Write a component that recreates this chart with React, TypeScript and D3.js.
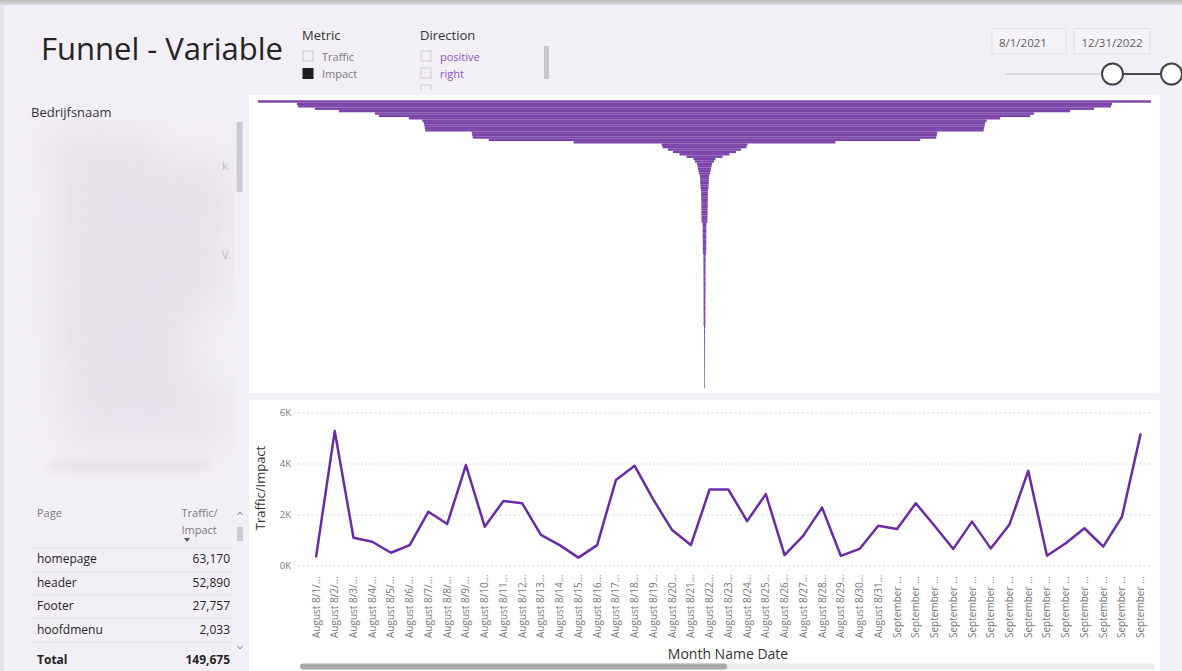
import React from "react";
import * as d3 from "d3";

const W = 1182;
const H = 671;
const FONT = "'Segoe UI', 'Open Sans', sans-serif";

// ---------- DATA ----------
const titleText = "Funnel - Variable";
const metricItems = ["Traffic", "Impact"];
const metricChecked = [false, true];
const directionItems = ["positive", "right", "ᵥᵥᵥᵥᵥ"];
const dateRange = ["8/1/2021", "12/31/2022"];

const tablePages = ["homepage", "header", "Footer", "hoofdmenu"];
const tableValues = [63170, 52890, 27757, 2033];
const tableTotal = 149675;

// funnel rows (sorted descending), value per category
const funnelValues = [
  8940, 8160, 8140, 7800, 7320, 6600, 6520, 5920, 5650, 5620, 5610, 5600, 5590,
  4660, 4650, 4640, 4320, 2620, 860, 840, 730, 630, 500, 360, 220, 190, 150, 140,
  130, 120, 110, 90, 88, 86, 84, 82, 80,
  68, 67, 66, 66, 65, 64, 64, 63, 62, 62, 61, 61, 60, 60,
  38, 38, 37, 37, 37, 36, 36, 36, 35, 35, 35, 34, 34,
  22, 22, 22, 21, 21, 21, 21, 21, 20, 20, 20, 20, 20, 20, 20, 19, 19, 19, 19, 19,
  19, 19, 18, 18, 18, 18, 18, 18, 18, 18,
  10, 10, 10, 9, 9, 9, 9, 9, 9, 8, 8, 8, 8, 8, 8, 8, 8, 7, 7, 7, 7, 7, 7, 7, 7, 7,
];

const dateLabels = [
  "August 8/1/…", "August 8/2/…", "August 8/3/…", "August 8/4/…", "August 8/5/…",
  "August 8/6/…", "August 8/7/…", "August 8/8/…", "August 8/9/…", "August 8/10…",
  "August 8/11…", "August 8/12…", "August 8/13…", "August 8/14…", "August 8/15…",
  "August 8/16…", "August 8/17…", "August 8/18…", "August 8/19…", "August 8/20…",
  "August 8/21…", "August 8/22…", "August 8/23…", "August 8/24…", "August 8/25…",
  "August 8/26…", "August 8/27…", "August 8/28…", "August 8/29…", "August 8/30…",
  "August 8/31…",
  "September …", "September …", "September …", "September …", "September …",
  "September …", "September …", "September …", "September …", "September …",
  "September …", "September …", "September …", "September …",
];

const lineValues = [
  340, 5290, 1110, 950, 520, 820, 2130, 1650, 3960, 1540, 2550, 2460, 1220, 820,
  330, 820, 3370, 3930, 2600, 1410, 820, 3000, 3000, 1760, 2820, 430, 1190, 2290,
  400, 670, 1580, 1450, 2460, 1580, 670, 1740, 690, 1630, 3730, 400, 890, 1480,
  760, 1930, 5200,
];

const yTicks = [0, 2000, 4000, 6000];
const yTickLabels = ["0K", "2K", "4K", "6K"];

export default function App() {
  // funnel scales
  const rowIdx = d3.range(funnelValues.length);
  const fy = d3.scaleBand<number>().domain(rowIdx).range([100.3, 388.3]).paddingInner(0);
  const fw = d3.scaleLinear().domain([0, d3.max(funnelValues) as number]).range([0, 446.5]);
  const fcx = 704.5;

  // line scales
  const x = d3.scalePoint<number>().domain(d3.range(lineValues.length)).range([316, 1140.7]);
  const y = d3.scaleLinear().domain([0, 6000]).range([566, 413]);
  const linePath = d3
    .line<number>()
    .x((_, i) => x(i) as number)
    .y((d) => y(d))(lineValues) as string;

  const fmt = d3.format(",");
  const rowBase = [563, 587, 610, 634];
  const rowLines = [548, 572, 595, 618, 642];

  return (
    <svg
      width={W}
      height={H}
      style={{ position: "absolute", left: 0, top: 0, display: "block" }}
      fontFamily={FONT}
    >
      <defs>
        <filter id="blur" x="-50%" y="-50%" width="200%" height="200%">
          <feGaussianBlur stdDeviation="20" />
        </filter>
        <filter id="blur2" x="-50%" y="-50%" width="200%" height="200%">
          <feGaussianBlur stdDeviation="4" />
        </filter>
        <linearGradient id="topbar" x1="0" y1="0" x2="0" y2="1">
          <stop offset="0" stopColor="#bdbdbd" />
          <stop offset="1" stopColor="#dcdcdc" />
        </linearGradient>
        <clipPath id="dirclip">
          <rect x={410} y={20} width={150} height={70} />
        </clipPath>
        <clipPath id="leftclip">
          <rect x={20} y={120} width={215} height={360} />
        </clipPath>
      </defs>

      {/* page background */}
      <rect x={0} y={0} width={W} height={H} fill="#f3eff6" />
      <rect x={0} y={0} width={W} height={5} fill="url(#topbar)" />
      <rect x={0} y={5} width={4} height={H} fill="#e6e2e9" />

      {/* title */}
      <text x={41} y={60} fontSize={31} fill="#252423">
        {titleText}
      </text>

      {/* Metric slicer */}
      <text x={302} y={40} fontSize={13} fill="#333">Metric</text>
      {metricItems.map((m, i) => (
        <g key={m}>
          <rect
            x={303}
            y={51 + i * 17.5}
            width={10}
            height={10}
            fill={metricChecked[i] ? "#1e1e1e" : "none"}
            stroke={metricChecked[i] ? "#1e1e1e" : "#d0ccd3"}
            strokeWidth={1}
          />
          <text x={322} y={60.5 + i * 17.5} fontSize={11} fill="#7a7a7a">{m}</text>
        </g>
      ))}

      {/* Direction slicer */}
      <text x={420} y={40} fontSize={13} fill="#333">Direction</text>
      <g clipPath="url(#dirclip)">
        {directionItems.map((m, i) => (
          <g key={i}>
            <rect x={421} y={51 + i * 17} width={10} height={10} fill="none" stroke="#d0ccd3" />
            <text x={440} y={60.5 + i * 17} fontSize={11} fill="#8b55c9">{m}</text>
          </g>
        ))}
      </g>
      <rect x={544} y={46} width={5} height={33} fill="#c9c6cc" />

      {/* date slicer */}
      {dateRange.map((d, i) => (
        <g key={d}>
          <rect
            x={992 + i * 82}
            y={28.5}
            width={i === 0 ? 74 : 76}
            height={25}
            fill="#f6f3f8"
            stroke="#e4e0e7"
          />
          <text x={999 + i * 82.5} y={47} fontSize={11.5} fill="#605e5c">{d}</text>
        </g>
      ))}
      <line x1={1005} x2={1112} y1={74} y2={74} stroke="#dcdcdc" strokeWidth={2} />
      <line x1={1112} x2={1171} y1={74} y2={74} stroke="#4a4a4a" strokeWidth={2} />
      <circle cx={1112.5} cy={74} r={10.5} fill="#fff" stroke="#444" strokeWidth={2} />
      <circle cx={1171.5} cy={74} r={10.5} fill="#fff" stroke="#444" strokeWidth={2} />

      {/* left panel: company list (blurred) */}
      <text x={31} y={117} fontSize={13} fill="#333">Bedrijfsnaam</text>
      <g clipPath="url(#leftclip)">
        <g filter="url(#blur)" opacity={0.5}>
          <rect x={45} y={130} width={110} height={30} fill="#dcd6e0" />
          <rect x={60} y={160} width={170} height={80} fill="#d9d3dd" />
          <rect x={55} y={240} width={170} height={70} fill="#dad4de" />
          <rect x={60} y={310} width={130} height={80} fill="#d9d3dd" />
          <rect x={65} y={385} width={160} height={60} fill="#dcd6e0" />
        </g>
      </g>
      <g filter="url(#blur2)" opacity={0.5}>
        <rect x={50} y={461} width={160} height={9} fill="#d9d3dd" />
      </g>
      <text x={222} y={170} fontSize={11} fill="#c2bec6">k.</text>
      <text x={222} y={259} fontSize={11} fill="#c2bec6">V.</text>
      <rect x={236.5} y={122} width={6} height={70} fill="#cdcacf" />

      {/* table */}
      <text x={37} y={517} fontSize={11} fill="#7a7a7a">Page</text>
      <text x={181.5} y={517} fontSize={11} fill="#7a7a7a">Traffic/</text>
      <text x={181.5} y={534} fontSize={11} fill="#7a7a7a">Impact</text>
      <path d="M184,538 L190,538 L187,542 Z" fill="#555" />
      {rowLines.map((ly, i) => (
        <line key={i} x1={32} x2={233} y1={ly} y2={ly} stroke="#e2dee6" strokeWidth={1} />
      ))}
      {tablePages.map((p, i) => (
        <g key={p}>
          <text x={37} y={rowBase[i]} fontSize={12} fill="#252423">{p}</text>
          <text x={230} y={rowBase[i]} fontSize={12} fill="#252423" textAnchor="end">
            {fmt(tableValues[i])}
          </text>
        </g>
      ))}
      <text x={37} y={663.5} fontSize={12} fontWeight="bold" fill="#252423">Total</text>
      <text x={230} y={663.5} fontSize={12} fontWeight="bold" fill="#252423" textAnchor="end">
        {fmt(tableTotal)}
      </text>
      <path d="M237.5,515 L240,512 L242.5,515" fill="none" stroke="#777" strokeWidth={0.9} />
      <rect x={237} y={527} width={6} height={14} fill="#cdcacf" />
      <path d="M237.5,646 L240,649 L242.5,646" fill="none" stroke="#777" strokeWidth={0.9} />

      {/* funnel panel */}
      <rect x={249} y={95} width={911} height={298} fill="#ffffff" />
      {funnelValues.map((v, i) => {
        const w = fw(v);
        return (
          <rect
            key={i}
            x={fcx - w}
            y={fy(i) as number}
            width={2 * w}
            height={fy.bandwidth()}
            fill="#7a43a9"
          />
        );
      })}

      {/* line panel */}
      <rect x={249} y={400} width={911} height={271} fill="#ffffff" />
      {yTicks.map((t, i) => (
        <g key={t}>
          <line
            x1={298}
            x2={1153}
            y1={y(t)}
            y2={y(t)}
            stroke="#c8c8c8"
            strokeWidth={1}
            strokeDasharray="1.5,3"
          />
          <text x={291} y={y(t)} dy="0.35em" fontSize={9.5} fill="#777" textAnchor="end">
            {yTickLabels[i]}
          </text>
        </g>
      ))}
      <text
        transform={`translate(265,488) rotate(-90)`}
        fontSize={13}
        fill="#333"
        textAnchor="middle"
      >
        Traffic/Impact
      </text>
      <path d={linePath} fill="none" stroke="#6b2ba7" strokeWidth={2.5} strokeLinejoin="round" />
      {dateLabels.map((l, i) => (
        <text
          key={i}
          transform={`translate(${x(i)},638) rotate(-90)`}
          dy="0.35em"
          fontSize={10}
          fill="#777"
        >
          {l}
        </text>
      ))}
      <text x={728} y={659} fontSize={14} fill="#333" textAnchor="middle">
        Month Name Date
      </text>
      <rect x={300} y={663.5} width={855} height={6} rx={3} fill="#ecebee" />
      <rect x={300} y={663.5} width={427} height={6} rx={3} fill="#a9a9a9" />
    </svg>
  );
}
